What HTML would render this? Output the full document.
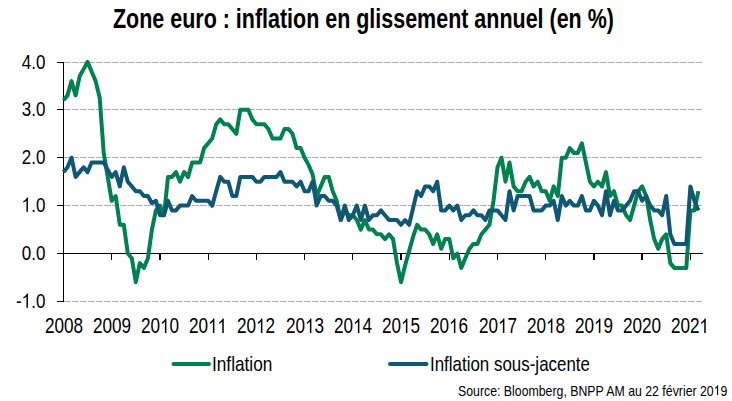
<!DOCTYPE html>
<html><head><meta charset="utf-8"><style>
html,body{margin:0;padding:0;background:#fff;}
body{width:732px;height:401px;position:relative;overflow:hidden;font-family:"Liberation Sans",sans-serif;color:#000;}
.t{position:absolute;left:0;top:0;white-space:nowrap;transform-origin:0 0;}
#title{position:absolute;left:113px;top:4px;font-size:27px;font-weight:bold;white-space:nowrap;transform:scaleX(0.795);transform-origin:0 0;}
.yl{position:absolute;left:0;width:45.4px;text-align:right;font-size:21px;line-height:22px;white-space:nowrap;transform:scaleX(0.81);transform-origin:45.4px 0;}
.yl span{display:inline-block;}
.xl{position:absolute;top:315px;width:80px;text-align:center;font-size:22px;line-height:22px;transform:scaleX(0.78);}
.lg{position:absolute;top:352.7px;font-size:21px;line-height:22px;color:#000;white-space:nowrap;transform-origin:0 0;transform:scaleX(0.82);}
#src{position:absolute;left:458px;top:382.5px;font-size:14.5px;line-height:16px;white-space:nowrap;transform-origin:0 0;transform:scaleX(0.849);}
svg.chart{position:absolute;left:0;top:0;}
svg.one{width:0.5562em;height:0.6982em;vertical-align:baseline;fill:currentColor;}
</style></head><body>
<svg class="chart" width="732" height="401" viewBox="0 0 732 401">
<g stroke="#b0b0b0" stroke-width="1" stroke-dasharray="7,1" shape-rendering="crispEdges"><line x1="64" x2="702" y1="62.5" y2="62.5"/><line x1="64" x2="702" y1="109.5" y2="109.5"/><line x1="64" x2="702" y1="157.5" y2="157.5"/><line x1="64" x2="702" y1="205.5" y2="205.5"/><line x1="64" x2="702" y1="301.5" y2="301.5"/></g>
<g stroke="#000" stroke-width="1.3" shape-rendering="crispEdges">
<line x1="63.5" x2="63.5" y1="62" y2="302"/>
<line x1="63" x2="703" y1="253.5" y2="253.5"/>
<line x1="57" x2="64" y1="62.5" y2="62.5"/><line x1="57" x2="64" y1="109.5" y2="109.5"/><line x1="57" x2="64" y1="157.5" y2="157.5"/><line x1="57" x2="64" y1="205.5" y2="205.5"/><line x1="57" x2="64" y1="253.5" y2="253.5"/><line x1="57" x2="64" y1="301.5" y2="301.5"/><line x1="111.7" x2="111.7" y1="253" y2="260"/><line x1="159.9" x2="159.9" y1="253" y2="260"/><line x1="208.2" x2="208.2" y1="253" y2="260"/><line x1="256.4" x2="256.4" y1="253" y2="260"/><line x1="304.6" x2="304.6" y1="253" y2="260"/><line x1="352.8" x2="352.8" y1="253" y2="260"/><line x1="401.0" x2="401.0" y1="253" y2="260"/><line x1="449.3" x2="449.3" y1="253" y2="260"/><line x1="497.5" x2="497.5" y1="253" y2="260"/><line x1="545.7" x2="545.7" y1="253" y2="260"/><line x1="593.9" x2="593.9" y1="253" y2="260"/><line x1="642.1" x2="642.1" y1="253" y2="260"/><line x1="690.4" x2="690.4" y1="253" y2="260"/></g>
<polyline fill="none" stroke="#00814f" stroke-width="4" stroke-linejoin="round" stroke-linecap="butt" points="63.5,100.2 67.5,95.4 71.5,81.1 75.6,95.4 79.6,76.3 83.6,69.1 87.6,61.9 91.6,71.5 95.6,81.1 99.7,97.8 103.7,152.9 107.7,176.9 111.7,200.8 115.7,196.0 119.8,224.8 123.8,224.8 127.8,253.5 131.8,258.3 135.8,282.2 139.8,263.1 143.9,267.9 147.9,258.3 151.9,229.6 155.9,210.4 159.9,205.6 164.0,215.2 168.0,176.9 172.0,176.9 176.0,172.1 180.0,181.7 184.1,172.1 188.1,176.9 192.1,162.5 196.1,162.5 200.1,162.5 204.1,148.1 208.2,143.3 212.2,138.5 216.2,124.2 220.2,119.4 224.2,124.2 228.3,124.2 232.3,129.0 236.3,133.8 240.3,109.8 244.3,109.8 248.3,109.8 252.4,119.4 256.4,124.2 260.4,124.2 264.4,124.2 268.4,129.0 272.5,138.5 276.5,138.5 280.5,138.5 284.5,129.0 288.5,129.0 292.5,133.8 296.6,148.1 300.6,148.1 304.6,157.7 308.6,164.9 312.6,174.5 316.7,196.0 320.7,186.4 324.7,176.9 328.7,176.9 332.7,191.2 336.7,200.8 340.8,220.0 344.8,210.4 348.8,215.2 352.8,215.2 356.8,220.0 360.9,229.6 364.9,220.0 368.9,229.6 372.9,229.6 376.9,234.3 380.9,234.3 385.0,239.1 389.0,234.3 393.0,239.1 397.0,263.1 401.0,282.2 405.1,265.5 409.1,251.1 413.1,236.7 417.1,224.8 421.1,229.6 425.2,229.6 429.2,234.3 433.2,243.9 437.2,234.3 441.2,248.7 445.2,239.1 449.3,239.1 453.3,258.3 457.3,253.5 461.3,267.9 465.3,258.3 469.4,248.7 473.4,243.9 477.4,243.9 481.4,234.3 485.4,229.6 489.4,224.8 493.5,200.8 497.5,167.3 501.5,157.7 505.5,181.7 509.5,162.5 513.6,186.4 517.6,191.2 521.6,191.2 525.6,181.7 529.6,176.9 533.6,186.4 537.7,181.7 541.7,191.2 545.7,191.2 549.7,200.8 553.7,186.4 557.8,196.0 561.8,157.7 565.8,157.7 569.8,148.1 573.8,152.9 577.8,152.9 581.9,143.3 585.9,162.5 589.9,181.7 593.9,186.4 597.9,181.7 602.0,186.4 606.0,172.1 610.0,196.0 614.0,191.2 618.0,205.6 622.0,205.6 626.1,215.2 630.1,220.0 634.1,205.6 638.1,191.2 642.1,186.4 646.2,196.0 650.2,220.0 654.2,239.1 658.2,248.7 662.2,239.1 666.2,234.3 670.3,263.1 674.3,267.9 678.3,267.9 682.3,267.9 686.3,267.9 690.4,210.4 694.4,210.4 698.4,191.2"/>
<polyline fill="none" stroke="#105773" stroke-width="4" stroke-linejoin="round" stroke-linecap="butt" points="63.5,172.1 67.5,167.3 71.5,157.7 75.6,176.9 79.6,172.1 83.6,167.3 87.6,172.1 91.6,162.5 95.6,162.5 99.7,162.5 103.7,162.5 107.7,169.7 111.7,176.9 115.7,172.1 119.8,186.4 123.8,167.3 127.8,181.7 131.8,186.4 135.8,191.2 139.8,191.2 143.9,196.0 147.9,196.0 151.9,203.2 155.9,200.8 159.9,215.2 164.0,215.2 168.0,200.8 172.0,210.4 176.0,210.4 180.0,205.6 184.1,205.6 188.1,205.6 192.1,196.0 196.1,200.8 200.1,200.8 204.1,200.8 208.2,200.8 212.2,205.6 216.2,191.2 220.2,176.9 224.2,181.7 228.3,181.7 232.3,196.0 236.3,196.0 240.3,176.9 244.3,176.9 248.3,176.9 252.4,176.9 256.4,181.7 260.4,181.7 264.4,176.9 268.4,176.9 272.5,176.9 276.5,176.9 280.5,172.1 284.5,181.7 288.5,181.7 292.5,181.7 296.6,186.4 300.6,181.7 304.6,191.2 308.6,191.2 312.6,181.7 316.7,205.6 320.7,196.0 324.7,196.0 328.7,200.8 332.7,200.8 336.7,205.6 340.8,220.0 344.8,205.6 348.8,220.0 352.8,215.2 356.8,205.6 360.9,220.0 364.9,205.6 368.9,220.0 372.9,215.2 376.9,215.2 380.9,210.4 385.0,215.2 389.0,220.0 393.0,220.0 397.0,220.0 401.0,224.8 405.1,220.0 409.1,224.8 413.1,208.0 417.1,191.2 421.1,196.0 425.2,186.4 429.2,186.4 433.2,191.2 437.2,181.7 441.2,210.4 445.2,210.4 449.3,205.6 453.3,210.4 457.3,205.6 461.3,220.0 465.3,215.2 469.4,215.2 473.4,210.4 477.4,215.2 481.4,215.2 485.4,220.0 489.4,210.4 493.5,210.4 497.5,210.4 501.5,215.2 505.5,220.0 509.5,191.2 513.6,210.4 517.6,196.0 521.6,196.0 525.6,196.0 529.6,196.0 533.6,210.4 537.7,210.4 541.7,210.4 545.7,205.6 549.7,205.6 553.7,200.8 557.8,220.0 561.8,196.0 565.8,205.6 569.8,200.8 573.8,205.6 577.8,205.6 581.9,196.0 585.9,210.4 589.9,210.4 593.9,200.8 597.9,205.6 602.0,215.2 606.0,191.2 610.0,215.2 614.0,200.8 618.0,210.4 622.0,210.4 626.1,205.6 630.1,200.8 634.1,191.2 638.1,191.2 642.1,200.8 646.2,196.0 650.2,205.6 654.2,210.4 658.2,210.4 662.2,215.2 666.2,196.0 670.3,234.3 674.3,243.9 678.3,243.9 682.3,243.9 686.3,243.9 690.4,186.4 694.4,200.8 698.4,210.4"/>
<line x1="173.5" x2="209" y1="364" y2="364" stroke="#00814f" stroke-width="4" stroke-linecap="round"/>
<line x1="390" x2="426.5" y1="364" y2="364" stroke="#105773" stroke-width="4" stroke-linecap="round"/>
</svg>
<div id="title">Zone euro : inflation en glissement annuel (en %)</div>
<div class="yl" style="top:51px">4.0</div><div class="yl" style="top:98px">3.0</div><div class="yl" style="top:146px">2.0</div><div class="yl" style="top:194px"><svg class="one" viewBox="0 0 1139 1430"><path transform="matrix(1 0 0 -0.9375 0 1430)" d="M763 0H583V1147Q518 1085 412.5 1023T221 930V1104Q372 1175 485 1276T645 1472H763V0Z"/></svg>.0</div><div class="yl" style="top:242px">0.0</div><div class="yl" style="top:290px">-<svg class="one" viewBox="0 0 1139 1430"><path transform="matrix(1 0 0 -0.9375 0 1430)" d="M763 0H583V1147Q518 1085 412.5 1023T221 930V1104Q372 1175 485 1276T645 1472H763V0Z"/></svg>.0</div>
<div class="xl" style="left:23.5px">2008</div><div class="xl" style="left:71.7px">2009</div><div class="xl" style="left:119.9px">20<svg class="one" viewBox="0 0 1139 1430"><path transform="matrix(1 0 0 -0.9375 0 1430)" d="M763 0H583V1147Q518 1085 412.5 1023T221 930V1104Q372 1175 485 1276T645 1472H763V0Z"/></svg>0</div><div class="xl" style="left:168.2px">20<svg class="one" viewBox="0 0 1139 1430"><path transform="matrix(1 0 0 -0.9375 0 1430)" d="M763 0H583V1147Q518 1085 412.5 1023T221 930V1104Q372 1175 485 1276T645 1472H763V0Z"/></svg><svg class="one" viewBox="0 0 1139 1430"><path transform="matrix(1 0 0 -0.9375 0 1430)" d="M763 0H583V1147Q518 1085 412.5 1023T221 930V1104Q372 1175 485 1276T645 1472H763V0Z"/></svg></div><div class="xl" style="left:216.4px">20<svg class="one" viewBox="0 0 1139 1430"><path transform="matrix(1 0 0 -0.9375 0 1430)" d="M763 0H583V1147Q518 1085 412.5 1023T221 930V1104Q372 1175 485 1276T645 1472H763V0Z"/></svg>2</div><div class="xl" style="left:264.6px">20<svg class="one" viewBox="0 0 1139 1430"><path transform="matrix(1 0 0 -0.9375 0 1430)" d="M763 0H583V1147Q518 1085 412.5 1023T221 930V1104Q372 1175 485 1276T645 1472H763V0Z"/></svg>3</div><div class="xl" style="left:312.8px">20<svg class="one" viewBox="0 0 1139 1430"><path transform="matrix(1 0 0 -0.9375 0 1430)" d="M763 0H583V1147Q518 1085 412.5 1023T221 930V1104Q372 1175 485 1276T645 1472H763V0Z"/></svg>4</div><div class="xl" style="left:361.0px">20<svg class="one" viewBox="0 0 1139 1430"><path transform="matrix(1 0 0 -0.9375 0 1430)" d="M763 0H583V1147Q518 1085 412.5 1023T221 930V1104Q372 1175 485 1276T645 1472H763V0Z"/></svg>5</div><div class="xl" style="left:409.3px">20<svg class="one" viewBox="0 0 1139 1430"><path transform="matrix(1 0 0 -0.9375 0 1430)" d="M763 0H583V1147Q518 1085 412.5 1023T221 930V1104Q372 1175 485 1276T645 1472H763V0Z"/></svg>6</div><div class="xl" style="left:457.5px">20<svg class="one" viewBox="0 0 1139 1430"><path transform="matrix(1 0 0 -0.9375 0 1430)" d="M763 0H583V1147Q518 1085 412.5 1023T221 930V1104Q372 1175 485 1276T645 1472H763V0Z"/></svg>7</div><div class="xl" style="left:505.7px">20<svg class="one" viewBox="0 0 1139 1430"><path transform="matrix(1 0 0 -0.9375 0 1430)" d="M763 0H583V1147Q518 1085 412.5 1023T221 930V1104Q372 1175 485 1276T645 1472H763V0Z"/></svg>8</div><div class="xl" style="left:553.9px">20<svg class="one" viewBox="0 0 1139 1430"><path transform="matrix(1 0 0 -0.9375 0 1430)" d="M763 0H583V1147Q518 1085 412.5 1023T221 930V1104Q372 1175 485 1276T645 1472H763V0Z"/></svg>9</div><div class="xl" style="left:602.1px">2020</div><div class="xl" style="left:650.4px">202<svg class="one" viewBox="0 0 1139 1430"><path transform="matrix(1 0 0 -0.9375 0 1430)" d="M763 0H583V1147Q518 1085 412.5 1023T221 930V1104Q372 1175 485 1276T645 1472H763V0Z"/></svg></div>
<div class="lg" id="lg1" style="left:212px">Inflation</div>
<div class="lg" id="lg2" style="left:429.6px;transform:scaleX(0.806)">Inflation sous-jacente</div>
<div id="src">Source: Bloomberg, BNPP AM au 22 février 20<svg class="one" viewBox="0 0 1139 1430"><path transform="matrix(1 0 0 -0.9375 0 1430)" d="M763 0H583V1147Q518 1085 412.5 1023T221 930V1104Q372 1175 485 1276T645 1472H763V0Z"/></svg>9</div>
</body></html>
